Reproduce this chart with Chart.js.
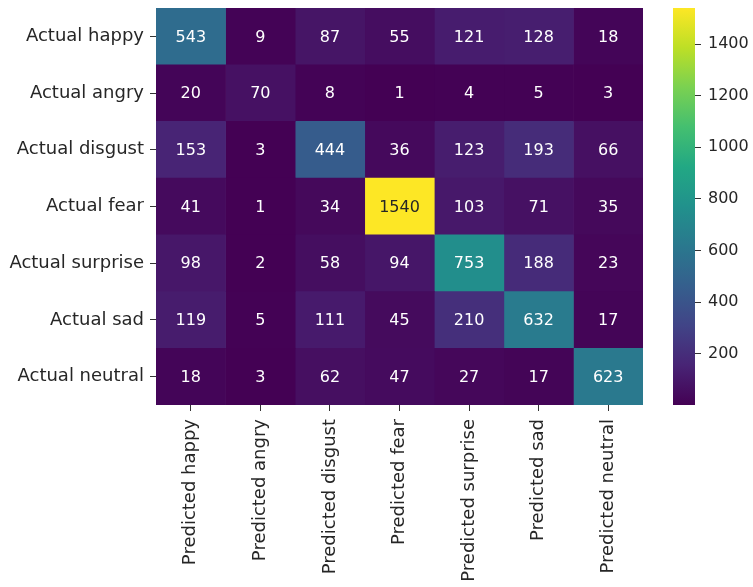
<!DOCTYPE html>
<html>
<head>
<meta charset="utf-8">
<script src="https://cdn.jsdelivr.net/npm/chart.js@4"></script>
<style>
  body { margin: 0; background: #fff; }
  #wrap { position: relative; width: 753px; height: 587px; }
  #wrap canvas { position: absolute; left: 0; top: 0; }
</style>
</head>
<body>
<div id="wrap">
  <canvas id="heat" width="753" height="587"></canvas>
  <canvas id="cbar" width="753" height="587"></canvas>
</div>
<script>
// confusion matrix data
var rowLabels = ["Actual happy", "Actual angry", "Actual disgust", "Actual fear",
                 "Actual surprise", "Actual sad", "Actual neutral"];
var colLabels = ["Predicted happy", "Predicted angry", "Predicted disgust", "Predicted fear",
                 "Predicted surprise", "Predicted sad", "Predicted neutral"];
var counts = [
  [543, 9, 87, 55, 121, 128, 18],
  [20, 70, 8, 1, 4, 5, 3],
  [153, 3, 444, 36, 123, 193, 66],
  [41, 1, 34, 1540, 103, 71, 35],
  [98, 2, 58, 94, 753, 188, 23],
  [119, 5, 111, 45, 210, 632, 17],
  [18, 3, 62, 47, 27, 17, 623]
];
var cbTicks = [200, 400, 600, 800, 1000, 1200, 1400];

var flat = [].concat.apply([], counts);
var vmin = Math.min.apply(null, flat);
var vmax = Math.max.apply(null, flat);

// viridis colormap
var viridisStops = ["#440154", "#482475", "#414487", "#355f8d", "#2a788e", "#21918c",
                    "#22a884", "#44bf70", "#7ad151", "#bddf26", "#fde725"];

function hexRgb(h) {
  return [parseInt(h.substr(1, 2), 16), parseInt(h.substr(3, 2), 16), parseInt(h.substr(5, 2), 16)];
}

function viridisRgb(t) {
  t = Math.max(0, Math.min(1, t));
  var pos = t * (viridisStops.length - 1);
  var i = Math.min(Math.floor(pos), viridisStops.length - 2);
  var f = pos - i;
  var a = hexRgb(viridisStops[i]), b = hexRgb(viridisStops[i + 1]);
  return [0, 1, 2].map(function (k) { return Math.round(a[k] + (b[k] - a[k]) * f); });
}

function cellRgb(v) { return viridisRgb((v - vmin) / (vmax - vmin)); }
function rgbStr(c) { return "rgb(" + c[0] + "," + c[1] + "," + c[2] + ")"; }

function textColor(v) {
  var lin = cellRgb(v).map(function (c) {
    c = c / 255;
    return c <= 0.03928 ? c / 12.92 : Math.pow((c + 0.055) / 1.055, 2.4);
  });
  var lum = 0.2126 * lin[0] + 0.7152 * lin[1] + 0.0722 * lin[2];
  return lum > 0.408 ? "#262626" : "#ffffff";
}

function noPad(s) {
  s.paddingTop = 0; s.paddingBottom = 0; s.paddingLeft = 0; s.paddingRight = 0;
}

Chart.defaults.font.family = '"DejaVu Sans", sans-serif';
Chart.defaults.color = "#262626";

var cellText = {
  id: "cellText",
  afterDatasetsDraw: function (chart) {
    var ctx = chart.ctx;
    ctx.save();
    ctx.font = '16px "DejaVu Sans"';
    ctx.textAlign = "center";
    ctx.textBaseline = "middle";
    chart.data.datasets.forEach(function (ds, j) {
      chart.getDatasetMeta(j).data.forEach(function (bar, i) {
        var v = counts[i][j];
        var p = bar.getCenterPoint();
        ctx.fillStyle = textColor(v);
        ctx.fillText(String(v), p.x, p.y + 1);
      });
    });
    ctx.restore();
  }
};

var datasets = colLabels.map(function (c, j) {
  return {
    label: c,
    data: rowLabels.map(function () { return [j, j + 1]; }),
    backgroundColor: counts.map(function (row) { return rgbStr(cellRgb(row[j])); }),
    borderWidth: 0,
    grouped: false,
    barPercentage: 1,
    categoryPercentage: 1
  };
});

new Chart("heat", {
  type: "bar",
  data: { labels: rowLabels, datasets: datasets },
  options: {
    indexAxis: "y",
    responsive: false,
    animation: false,
    events: [],
    layout: { padding: { top: 8, right: 110, left: 0, bottom: 0 } },
    plugins: { legend: { display: false }, tooltip: { enabled: false } },
    scales: {
      x: {
        type: "linear",
        min: 0,
        max: colLabels.length,
        position: "bottom",
        afterBuildTicks: function (s) {
          s.ticks = colLabels.map(function (c, j) { return { value: j + 0.5 }; });
        },
        afterFit: function (s) { s.height = 182; noPad(s); },
        ticks: {
          autoSkip: false,
          minRotation: 90,
          maxRotation: 90,
          padding: 8,
          font: { size: 18 },
          callback: function (v, i) { return colLabels[i]; }
        },
        grid: { drawOnChartArea: false, tickLength: 6, tickColor: "#333" },
        border: { display: false }
      },
      y: {
        afterFit: function (s) { s.width = 156; noPad(s); },
        ticks: { padding: 6, font: { size: 18 } },
        grid: { drawOnChartArea: false, offset: false, tickLength: 6, tickColor: "#333" },
        border: { display: false }
      }
    }
  },
  plugins: [cellText]
});

// colorbar
function barGradient(context) {
  var chart = context.chart;
  var area = chart.chartArea;
  if (!area) return "#440154";
  var g = chart.ctx.createLinearGradient(0, area.bottom, 0, area.top);
  viridisStops.forEach(function (c, k) { g.addColorStop(k / (viridisStops.length - 1), c); });
  return g;
}

new Chart("cbar", {
  type: "bar",
  data: {
    labels: [""],
    datasets: [{
      data: [[vmin, vmax]],
      backgroundColor: barGradient,
      borderWidth: 0,
      barPercentage: 1,
      categoryPercentage: 1
    }]
  },
  options: {
    responsive: false,
    animation: false,
    events: [],
    layout: { padding: { left: 673, top: 8, bottom: 182, right: 0 } },
    plugins: { legend: { display: false }, tooltip: { enabled: false } },
    scales: {
      x: { display: false },
      y: {
        position: "right",
        min: vmin,
        max: vmax,
        afterBuildTicks: function (s) {
          s.ticks = cbTicks.map(function (v) { return { value: v }; });
        },
        afterFit: function (s) { s.width = 58; noPad(s); },
        ticks: { padding: 7, font: { size: 16 }, callback: function (v) { return String(v); } },
        grid: { drawOnChartArea: false, tickLength: 6, tickColor: "#333" },
        border: { display: false }
      }
    }
  }
});
</script>
</body>
</html>
